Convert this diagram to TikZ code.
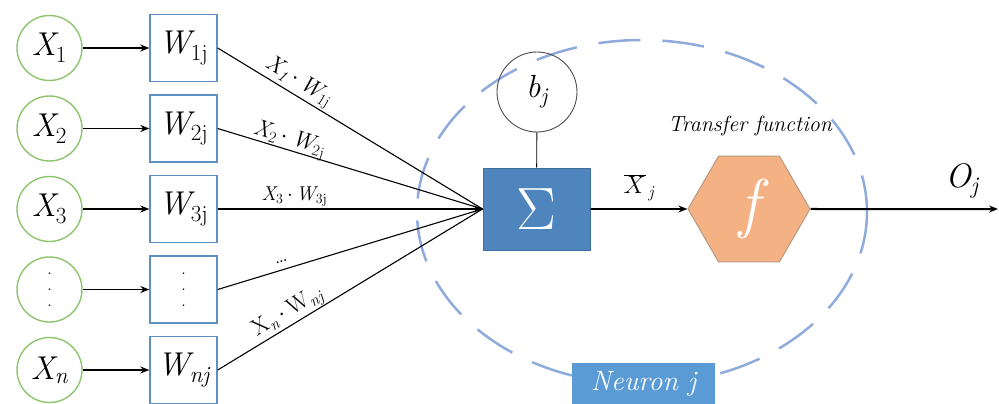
\documentclass[tikz,border=0pt]{standalone}
\usepackage{graphicx}
\usetikzlibrary{shapes.geometric,arrows.meta}
\definecolor{cgreen}{HTML}{8CC56C}
\definecolor{cwbox}{HTML}{5F90C4}
\definecolor{csum}{HTML}{4D85BC}
\definecolor{csumd}{HTML}{3F6F9E}
\definecolor{chex}{HTML}{F4B183}
\definecolor{chexd}{HTML}{B79A80}
\definecolor{cell}{HTML}{8FABDC}
\definecolor{cneu}{HTML}{5B9BD5}
\newcommand\fs[1]{\fontsize{#1}{#1}\selectfont}
\newcommand\lo[1]{\textsubscript{#1}}
\begin{document}
\begin{tikzpicture}[x=1pt,y=-1pt,
  inp/.style={circle,draw=cgreen,line width=1.4pt,minimum size=65pt,inner sep=0pt,font=\fs{33}\itshape},
  wbox/.style={rectangle,draw=cwbox,line width=1.4pt,minimum size=67pt,inner sep=0pt,font=\fs{33}\itshape},
  conn/.style={line width=1.1pt},
  arr/.style={conn,-{Stealth[length=9pt,width=7pt]}},
  lbl/.style={font=\fs{23},inner sep=2pt,sloped,above},
  sumbox/.style={rectangle,fill=csum,draw=csumd,line width=1pt,minimum width=107pt,minimum height=82pt,inner sep=0pt,text=white,font=\fs{24}},
  bcirc/.style={circle,draw=black!70,line width=0.9pt,minimum size=80pt,inner sep=0pt,font=\fs{32}\itshape},
  hexa/.style={regular polygon,regular polygon sides=6,fill=chex,draw=chexd,line width=1pt,minimum size=122pt,inner sep=0pt,text=white,font=\fs{66}\itshape},
  ell/.style={draw=cell,line width=2.5pt,dash pattern=on 42pt off 22pt},
  nbox/.style={rectangle,fill=cneu,minimum width=143pt,minimum height=41pt,inner sep=0pt,text=white,font=\fs{28}\itshape}
]
\useasboundingbox (0,0) rectangle (999,404);
% neuron boundary
\draw[ell] (642,212) ellipse [x radius=225, y radius=172];
\node[nbox] (neu) at (643.5,383.5) {Neuron j};
% inputs
\node[inp] (x1) at (49.5,48) {X\lo{\upshape 1}};
\node[inp] (x2) at (49.5,128.5) {X\lo{\upshape 2}};
\node[inp] (x3) at (49.5,209) {X\lo{\upshape 3}};
\node[inp,align=center,font=\fs{20}] (x4) at (49.5,289.5) {.\\[-4pt].\\[-4pt].};
\node[inp] (x5) at (49.5,370) {X\lo{n}};
\node[wbox] (w1) at (183.5,48) {W\lo{\upshape 1j}};
\node[wbox] (w2) at (183.5,128.5) {W\lo{\upshape 2j}};
\node[wbox] (w3) at (183.5,209) {W\lo{\upshape 3j}};
\node[wbox,align=center,font=\fs{20}] (w4) at (183.5,289.5) {.\\[-4pt].\\[-4pt].};
\node[wbox] (w5) at (183.5,370) {W\lo{nj}};
\foreach \i in {1,...,5}{\draw[arr] (x\i) -- (w\i);}
% summation
\node[sumbox] (sum) at (536.5,209) {\scalebox{2.4}{$\Sigma$}};
\node[bcirc] (b) at (537,92) {b\lo{j}};
\draw[line width=0.9pt] (b) -- (sum);
\draw[conn] (w1.east) -- node[lbl,pos=0.28,yshift=-1pt] {\itshape X\lo{\itshape 1}$\,\cdot\,$W\lo{\upshape 1j}} (sum.west);
\draw[conn] (w2.east) -- node[lbl,pos=0.26,yshift=-4pt] {\itshape X\lo{\upshape 2}$\,\cdot\,$W\lo{\upshape 2j}} (sum.west);
\draw[arr] (w3.east) -- node[lbl,pos=0.29,font=\fs{20}] {\itshape X\lo{\upshape 3}$\,\cdot\,$W\lo{\upshape 3j}} (sum.west);
\draw[conn] (w4.east) -- node[lbl,pos=0.25,yshift=5pt] {\dots} (sum.west);
\draw[conn] (w5.east) -- node[lbl,pos=0.29,yshift=-2pt] {X\lo{\itshape n}$\,\cdot\,$W\lo{\itshape nj}} (sum.west);
% transfer
\node[hexa] (f) at (749,209) {f};
\node[font=\fs{22}\itshape] (tf) at (750,126) {Transfer function};
\draw[arr,line width=1.8pt] (sum) -- node[above=4pt,font=\fs{24}\itshape] (xb) {$\overline{X}$\lo{\,j}} (f);
\coordinate (out) at (998,209);
\draw[arr,line width=2pt] (f) -- (out);
\node[font=\fs{34}\itshape] (oj) at (962,181) {O\lo{j}};
\end{tikzpicture}
\end{document}
